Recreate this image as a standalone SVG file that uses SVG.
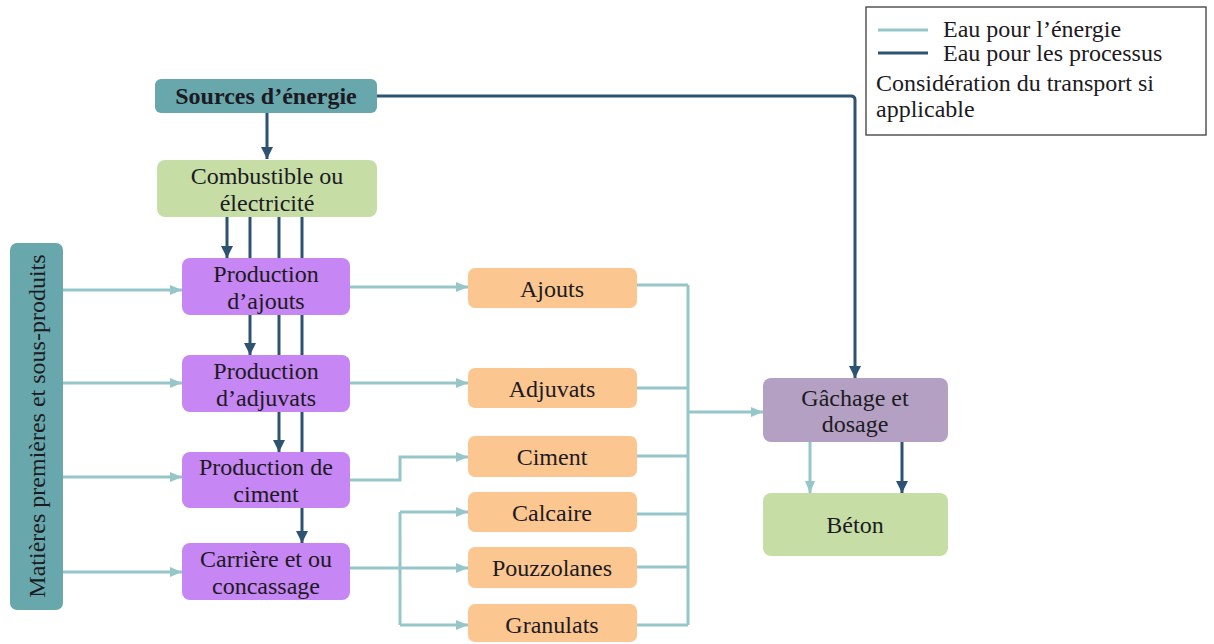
<svg xmlns="http://www.w3.org/2000/svg" width="1214" height="644" viewBox="0 0 1214 644" font-family="'Liberation Serif', 'Times New Roman', Times, 'DejaVu Serif', serif">
<defs>
<style>
text{font-family:'Liberation Serif','Times New Roman',Times,'DejaVu Serif',serif;font-size:24px;fill:#1c1a22;text-anchor:middle}
.bold{font-weight:bold}
.lg{text-anchor:start}
.dark{fill:none;stroke:#2d5272;stroke-width:3}
.light{fill:none;stroke:#97c6ca;stroke-width:3}
.teal{fill:#68a8ad}
.green{fill:#c6dea6}
.violet{fill:#c686f3}
.orange{fill:#fbc68f}
.mauve{fill:#b3a0c2}
</style>
<marker id="ad" markerUnits="userSpaceOnUse" markerWidth="14" markerHeight="14" refX="12" refY="7" orient="auto">
<path d="M0,1 L12,7 L0,13 Z" fill="#2d5272"/>
</marker>
<marker id="al" markerUnits="userSpaceOnUse" markerWidth="14" markerHeight="14" refX="12" refY="7" orient="auto">
<path d="M0,2 L12,7 L0,12 Z" fill="#97c6ca"/>
</marker>
</defs>
<rect width="1214" height="644" fill="#ffffff"/>

<g id="connectors">
<path class="dark" d="M267,113 V159" marker-end="url(#ad)"/>
<path class="dark" d="M227,217 V258" marker-end="url(#ad)"/>
<path class="dark" d="M250,217 V355" marker-end="url(#ad)"/>
<path class="dark" d="M279,217 V452" marker-end="url(#ad)"/>
<path class="dark" d="M302,217 V543" marker-end="url(#ad)"/>
<path class="dark" d="M377,96 H851 Q855,96 855,100 V378" marker-end="url(#ad)"/>
<path class="dark" d="M902,442 V493" marker-end="url(#ad)"/>

<path class="light" d="M63,290 H182" marker-end="url(#al)"/>
<path class="light" d="M63,383 H182" marker-end="url(#al)"/>
<path class="light" d="M63,477 H182" marker-end="url(#al)"/>
<path class="light" d="M63,572 H182" marker-end="url(#al)"/>
<path class="light" d="M350,287 H468" marker-end="url(#al)"/>
<path class="light" d="M350,383 H468" marker-end="url(#al)"/>
<path class="light" d="M350,480 H400 V457 H468" marker-end="url(#al)"/>
<path class="light" d="M350,568 H468" marker-end="url(#al)"/>
<path class="light" d="M400,512 V625"/>
<path class="light" d="M400,512 H468" marker-end="url(#al)"/>
<path class="light" d="M400,625 H468" marker-end="url(#al)"/>
<path class="light" d="M637,285 H688 M637,388 H688 M637,456 H688 M637,514 H688 M637,567 H688 M637,625 H688 M688,285 V625"/>
<path class="light" d="M688,412 H763" marker-end="url(#al)"/>
<path class="light" d="M810,442 V493" marker-end="url(#al)"/>
</g>

<g id="sources">
<rect class="teal" x="155" y="79" width="222" height="34" rx="6"/>
<text class="bold" x="266" y="104">Sources d’énergie</text>
</g>
<g id="combustible">
<rect class="green" x="157" y="160" width="220" height="57" rx="8"/>
<text x="267" y="184">Combustible ou</text>
<text x="267" y="211">électricité</text>
</g>
<g id="matieres">
<rect class="teal" x="10" y="243" width="53" height="367" rx="7"/>
<text transform="translate(45,426) rotate(-90)">Matières premières et sous-produits</text>
</g>
<g id="prod-ajouts">
<rect class="violet" x="182" y="258" width="168" height="57" rx="8"/>
<text x="266" y="282">Production</text>
<text x="266" y="309">d’ajouts</text>
</g>
<g id="prod-adjuvats">
<rect class="violet" x="182" y="355" width="168" height="57" rx="8"/>
<text x="266" y="379">Production</text>
<text x="266" y="406">d’adjuvats</text>
</g>
<g id="prod-ciment">
<rect class="violet" x="182" y="452" width="168" height="56" rx="8"/>
<text x="266" y="475">Production de</text>
<text x="266" y="502">ciment</text>
</g>
<g id="carriere">
<rect class="violet" x="182" y="543" width="168" height="57" rx="8"/>
<text x="266" y="567">Carrière et ou</text>
<text x="266" y="594">concassage</text>
</g>
<g id="ajouts">
<rect class="orange" x="468" y="268" width="169" height="40" rx="7"/>
<text x="552" y="297">Ajouts</text>
</g>
<g id="adjuvats">
<rect class="orange" x="468" y="368" width="169" height="40" rx="7"/>
<text x="552" y="397">Adjuvats</text>
</g>
<g id="ciment">
<rect class="orange" x="468" y="436" width="169" height="41" rx="7"/>
<text x="552" y="465">Ciment</text>
</g>
<g id="calcaire">
<rect class="orange" x="468" y="492" width="169" height="40" rx="7"/>
<text x="552" y="521">Calcaire</text>
</g>
<g id="pouzzolanes">
<rect class="orange" x="468" y="547" width="169" height="41" rx="7"/>
<text x="552" y="576">Pouzzolanes</text>
</g>
<g id="granulats">
<rect class="orange" x="468" y="604" width="169" height="38" rx="7"/>
<text x="552" y="633">Granulats</text>
</g>
<g id="gachage">
<rect class="mauve" x="763" y="378" width="185" height="64" rx="8"/>
<text x="855" y="406">Gâchage et</text>
<text x="855" y="432">dosage</text>
</g>
<g id="beton">
<rect class="green" x="763" y="493" width="185" height="63" rx="8"/>
<text x="855" y="533">Béton</text>
</g>

<g id="legend">
<rect x="866" y="7" width="340" height="128" fill="#ffffff" stroke="#555555" stroke-width="1.5"/>
<path class="light" d="M878,30 H928"/>
<path class="dark" d="M878,53 H928"/>
<text class="lg" x="943" y="37">Eau pour l’énergie</text>
<text class="lg" x="943" y="61">Eau pour les processus</text>
<text class="lg" x="876" y="91">Considération du transport si</text>
<text class="lg" x="876" y="117">applicable</text>
</g>
</svg>
